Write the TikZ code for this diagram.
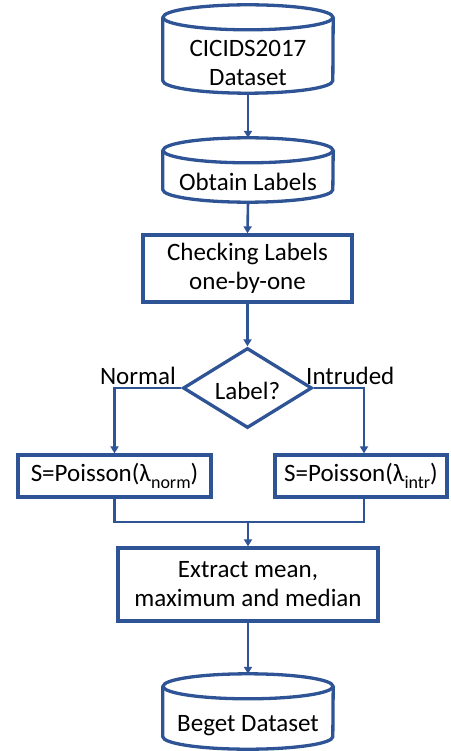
\documentclass[tikz,border=0pt]{standalone}
\usepackage{fontspec}
\setmainfont{Carlito}
\usetikzlibrary{calc,shapes.geometric,arrows.meta}
\definecolor{flowblue}{RGB}{47,84,150}
\tikzset{
  x=1pt, y=-1pt,
  every node/.style={font=\fontsize{25}{29}\selectfont, text=black},
  boxed/.style={draw=flowblue, line width=3.3pt, fill=white, align=center, inner sep=0pt},
  ghost/.style={inner sep=0pt},
  txt/.style={align=center, inner sep=0pt},
  link/.style={draw=flowblue, line width=2.6pt, -{Triangle[length=7pt,width=8pt]}},
  joint/.style={draw=flowblue, line width=2.6pt},
  drum/.style={draw=flowblue, line width=3.3pt},
}
% subscript set in the text font
\newcommand\lowidx[1]{\raisebox{-0.28em}{\fontsize{18}{18}\selectfont #1}}
% cylinder drawn around the bounding box of a named node
\newcommand\drawdrum[1]{%
  \draw[drum] ($(#1.north west)+(0,12.5)$) -- ($(#1.south west)+(0,-12.5)$)
    arc[start angle=180, end angle=360, x radius=85, y radius=-12.5]
    -- ($(#1.north east)+(0,12.5)$);
  \draw[drum] ($(#1.north)+(0,12.5)$) ellipse[x radius=85, y radius=12.5];
}
\begin{document}
\begin{tikzpicture}
\useasboundingbox (0,0) rectangle (450,751);

% data stores
\node[ghost, minimum width=170, minimum height=88] (src) at (248,49) {};
\drawdrum{src}
\node[txt] (srctext) at (248,63) {CICIDS2017\\Dataset};

\node[ghost, minimum width=170, minimum height=64] (lab) at (248,170) {};
\drawdrum{lab}
\node[txt] (labtext) at (248,182) {Obtain Labels};

% process steps
\node[boxed, minimum width=209, minimum height=67] (check) at (247.5,268.5) {Checking Labels\\one-by-one};

\node[draw=flowblue, line width=3.3pt, diamond, aspect=1.62, inner sep=0pt,
      minimum width=129, minimum height=80] (dec) at (247.5,388) {};
\node[txt] (dectext) at (247.5,391) {Label?};

\node[boxed, minimum width=193, minimum height=42] (norm) at (114.5,476) {S=Poisson(λ\lowidx{norm})};
\node[boxed, minimum width=172, minimum height=42] (intr) at (361,476) {S=Poisson(λ\lowidx{intr})};

\node[boxed, minimum width=260, minimum height=73] (ext) at (248,584.5) {Extract mean,\\maximum and median};

\node[ghost, minimum width=170, minimum height=75] (out) at (248,711.5) {};
\drawdrum{out}
\node[txt] (outtext) at (248,726) {Beget Dataset};

% branch labels
\node[txt, anchor=south east] (lnorm) at (176,385) {Normal};
\node[txt, anchor=south west] (lintr) at (306,385) {Intruded};

% connectors
\coordinate (nl) at (114.5,388);
\coordinate (nr) at (364,388);
\coordinate (jl) at (114.5,522);
\coordinate (jr) at (364,522);
\coordinate (jm) at (248,522);

\draw[link] (src.south) -- (lab.north);
\draw[link] (lab.south) -- (check.north);
\draw[link] (check.south) -- (dec.north);
\draw[link] (dec.west) -- (nl) -- (norm.north);
\draw[link] (dec.east) -- (nr) -- (intr.north -| nr);
\draw[joint] (norm.south) -- (jl) -- (jr) -- (intr.south -| jr);
\draw[link] (jm) -- (ext.north);
\draw[link] (ext.south) -- (out.north);
\end{tikzpicture}
\end{document}
